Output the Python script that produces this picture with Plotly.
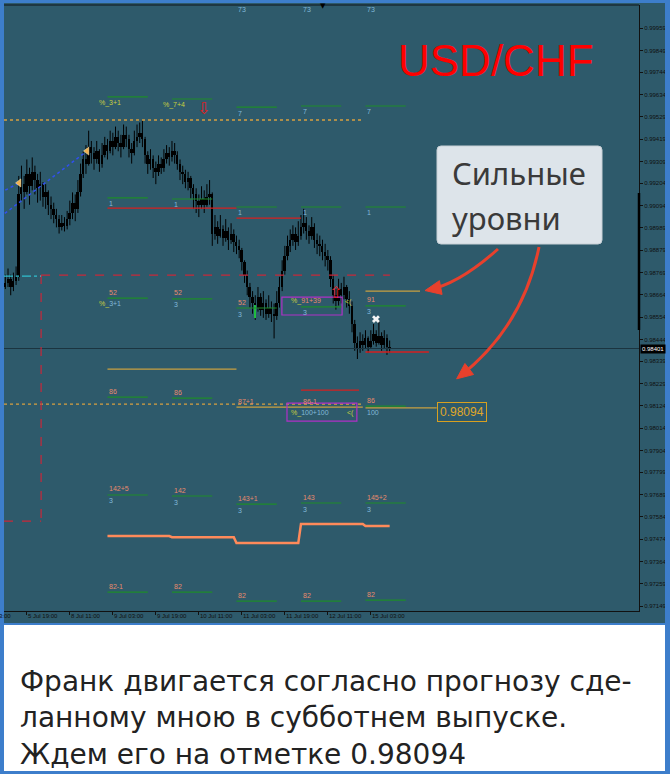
import plotly.graph_objects as go

W, H = 670, 774

# ---------------- data ----------------
close = [
    0.98720, 0.98740, 0.98700, 0.98730, 0.98750, 0.99150, 0.99200, 0.99160, 0.99250, 0.99190,
    0.99260, 0.99220, 0.99180, 0.99200, 0.99140, 0.99160, 0.99100, 0.99080, 0.99050, 0.99030,
    0.98990, 0.99010, 0.98995, 0.99030, 0.99060, 0.99110, 0.99080, 0.99160, 0.99250, 0.99320,
    0.99300, 0.99380, 0.99350, 0.99320, 0.99360, 0.99300, 0.99340, 0.99390, 0.99360, 0.99410,
    0.99380, 0.99430, 0.99400, 0.99380, 0.99440, 0.99420, 0.99370, 0.99350, 0.99410, 0.99430,
    0.99450, 0.99420, 0.99340, 0.99300, 0.99320, 0.99280, 0.99260, 0.99300, 0.99280, 0.99320,
    0.99350, 0.99330, 0.99360, 0.99340, 0.99300, 0.99260, 0.99250, 0.99210, 0.99230, 0.99180,
    0.99150, 0.99120, 0.99100, 0.99130, 0.99100, 0.99140, 0.99150, 0.98960, 0.98990, 0.98950,
    0.98980, 0.98940, 0.98970, 0.98930, 0.98960, 0.98920, 0.98900, 0.98880, 0.98820, 0.98760,
    0.98700, 0.98650, 0.98620, 0.98600, 0.98650, 0.98590, 0.98620, 0.98570, 0.98600, 0.98570,
    0.98560, 0.98620, 0.98700, 0.98780, 0.98850, 0.98900, 0.98930, 0.98960, 0.98920, 0.98950,
    0.98990, 0.99010, 0.98970, 0.98950, 0.98990, 0.98930, 0.98910, 0.98900, 0.98870, 0.98850,
    0.98830, 0.98740, 0.98660, 0.98630, 0.98690, 0.98660, 0.98700, 0.98640, 0.98610, 0.98520,
    0.98430, 0.98400, 0.98440, 0.98420, 0.98450, 0.98410, 0.98440, 0.98470, 0.98430, 0.98460,
    0.98420, 0.98450, 0.98410, 0.98401]
high = [
    0.98760, 0.98790, 0.98760, 0.98770, 0.98800, 0.99240, 0.99290, 0.99240, 0.99320, 0.99280,
    0.99330, 0.99290, 0.99250, 0.99260, 0.99210, 0.99200, 0.99170, 0.99140, 0.99110, 0.99080,
    0.99050, 0.99050, 0.99040, 0.99070, 0.99120, 0.99160, 0.99150, 0.99220, 0.99300, 0.99360,
    0.99390, 0.99460, 0.99410, 0.99380, 0.99410, 0.99370, 0.99400, 0.99430, 0.99420, 0.99460,
    0.99450, 0.99480, 0.99460, 0.99440, 0.99490, 0.99480, 0.99440, 0.99400, 0.99460, 0.99490,
    0.99500, 0.99510, 0.99430, 0.99360, 0.99370, 0.99340, 0.99310, 0.99340, 0.99330, 0.99370,
    0.99390, 0.99380, 0.99410, 0.99400, 0.99360, 0.99320, 0.99290, 0.99270, 0.99260, 0.99240,
    0.99200, 0.99180, 0.99150, 0.99190, 0.99170, 0.99200, 0.99220, 0.99160, 0.99050, 0.99020,
    0.99050, 0.99000, 0.99030, 0.98990, 0.99010, 0.98980, 0.98950, 0.98930, 0.98890, 0.98830,
    0.98780, 0.98720, 0.98680, 0.98660, 0.98700, 0.98670, 0.98680, 0.98640, 0.98660, 0.98630,
    0.98620, 0.98680, 0.98750, 0.98830, 0.98900, 0.98950, 0.98980, 0.99000, 0.98990, 0.99020,
    0.99050, 0.99080, 0.99040, 0.99000, 0.99040, 0.99010, 0.98960, 0.98950, 0.98930, 0.98910,
    0.98880, 0.98850, 0.98760, 0.98690, 0.98740, 0.98720, 0.98750, 0.98710, 0.98680, 0.98630,
    0.98540, 0.98460, 0.98480, 0.98470, 0.98490, 0.98460, 0.98490, 0.98520, 0.98490, 0.98540,
    0.98480, 0.98490, 0.98470, 0.98440]
low = [
    0.98690, 0.98700, 0.98660, 0.98680, 0.98710, 0.98730, 0.99120, 0.99080, 0.99150, 0.99100,
    0.99170, 0.99150, 0.99110, 0.99120, 0.99090, 0.99080, 0.99050, 0.99030, 0.99010, 0.98990,
    0.98960, 0.98975, 0.98970, 0.98980, 0.99000, 0.99030, 0.99020, 0.99060, 0.99140, 0.99230,
    0.99250, 0.99290, 0.99300, 0.99270, 0.99300, 0.99260, 0.99280, 0.99330, 0.99320, 0.99350,
    0.99340, 0.99370, 0.99360, 0.99330, 0.99370, 0.99380, 0.99330, 0.99300, 0.99340, 0.99380,
    0.99400, 0.99380, 0.99300, 0.99250, 0.99270, 0.99230, 0.99200, 0.99240, 0.99250, 0.99260,
    0.99300, 0.99290, 0.99310, 0.99300, 0.99270, 0.99220, 0.99200, 0.99180, 0.99170, 0.99130,
    0.99080, 0.99060, 0.99040, 0.99080, 0.99060, 0.99090, 0.99100, 0.98900, 0.98930, 0.98910,
    0.98940, 0.98900, 0.98920, 0.98880, 0.98910, 0.98870, 0.98860, 0.98840, 0.98780, 0.98720,
    0.98660, 0.98600, 0.98570, 0.98540, 0.98580, 0.98560, 0.98550, 0.98540, 0.98550, 0.98530,
    0.98450, 0.98540, 0.98600, 0.98680, 0.98760, 0.98830, 0.98870, 0.98900, 0.98880, 0.98900,
    0.98930, 0.98960, 0.98930, 0.98910, 0.98930, 0.98890, 0.98860, 0.98850, 0.98830, 0.98800,
    0.98780, 0.98700, 0.98620, 0.98590, 0.98610, 0.98620, 0.98640, 0.98600, 0.98570, 0.98480,
    0.98390, 0.98350, 0.98380, 0.98390, 0.98400, 0.98380, 0.98400, 0.98420, 0.98410, 0.98420,
    0.98390, 0.98400, 0.98370, 0.98380]
first_open = 0.98700

tick_bars = [8, 24, 40, 56, 72, 88, 104, 120, 136]
tick_labels = ["5 Jul 19:00", "8 Jul 11:00", "9 Jul 03:00", "9 Jul 19:00", "10 Jul 11:00",
               "11 Jul 03:00", "11 Jul 19:00", "12 Jul 11:00", "15 Jul 03:00"]
price_ticks = [0.99959, 0.99849, 0.99744, 0.99634, 0.99529, 0.99419, 0.99309, 0.99204, 0.99094,
               0.98989, 0.98879, 0.98769, 0.98664, 0.98554, 0.98444, 0.98339, 0.98229, 0.98124,
               0.98014, 0.97904, 0.97799, 0.97689, 0.97584, 0.97474, 0.97364, 0.97259, 0.97149]

current_price = 0.98401
target_price = 0.98094

# level-indicator columns (bar index where each daily block starts)
col_start = [38, 62, 86, 110, 134]
col_len = 15
lvl7 = [0.99624, 0.99614, 0.99575, 0.99580, 0.99580]
lvl1 = [0.99133, 0.99128, 0.99089, 0.99089, 0.99089]
lvl52 = [0.98646, 0.98642, 0.98598, 0.98603, 0.98608]
lvl86 = [0.98165, 0.98160, None, None, 0.98121]
lvl142 = [0.97689, 0.97684, 0.97645, 0.97650, 0.97650]
lvl82 = [0.97217, 0.97217, 0.97173, 0.97173, 0.97178]
step_vals = [0.97489, 0.97484, 0.97455, 0.97548, 0.97538]
gold86 = 0.98116

txt52_above = ["52", "52", "52", None, "91"]
txt86_above = ["86", "86", "87+1", "86-1", "86"]
txt142_above = ["142+5", "142", "143+1", "143", "145+2"]
txt82_above = ["82-1", "82", "82", "82", "82"]

# other indicator marks: (start bar, end bar, price)
red_segs = [(38, 86, 0.99084), (86, 110, 0.99035), (110, 131.6, 0.98199), (134, 157.6, 0.98384)]
gold_segs = [(38, 86, 0.98301), (86, 133, gold86), (134, 160.5, 0.98112), (134, 154.3, 0.98680)]
dotted_orange = [0.99512, 0.98131]
dotted_end = 132.7
box_top = 0.98758
box_bottom = 0.97562
box_left = 13.3
box_right = 143.1
cyan_level = 0.98753
magenta_boxes = [(102.9, 125.3, 0.98651, 0.98564), (104.8, 130.8, 0.98136, 0.98048)]
fractal_x = [5.1, 30.4]
fractal_y = [0.99206, 0.99361]
trend1_x = [-2.0, 30.4]
trend1_y = [0.99040, 0.99361]
trend2_x = [-2.0, 5.1]
trend2_y = [0.99157, 0.99206]

# ---------------- helpers ----------------
def PX(x):
    return x / W


def PY(y):
    return 1 - y / H


TEAL = "#2e5a6b"
BLUE = "#3d7ecb"
SAL = "#e88a6c"
LBL = "#82b9d9"
YEL = "#c8d040"
GRN = "#1e8c2a"
RED = "#d42020"
GOLD = "#c9a040"
LF = "Liberation Sans, Arial"

opens = [first_open] + close[:-1]
n = len(close)
idx = list(range(n))

fig = go.Figure()
# candles: wicks + bodies
wx, wy = [], []
for i in idx:
    wx += [i, i, None]
    wy += [low[i], high[i], None]
fig.add_trace(go.Scatter(x=wx, y=wy, mode="lines", line=dict(color="#000000", width=1),
                         showlegend=False, hoverinfo="skip"))
body_base = [min(o, c) for o, c in zip(opens, close)]
body_h = [max(abs(c - o), 0.00002) for o, c in zip(opens, close)]
fig.add_trace(go.Bar(x=idx, y=body_h, base=body_base, width=0.72,
                     marker=dict(color="#000000", line=dict(width=0)),
                     showlegend=False, hoverinfo="skip"))

# trend dotted lines & fractal markers
fig.add_trace(go.Scatter(x=trend1_x, y=trend1_y, mode="lines",
                         line=dict(color="#3050f0", width=1.5, dash="dot"), showlegend=False, hoverinfo="skip"))
fig.add_trace(go.Scatter(x=trend2_x, y=trend2_y, mode="lines",
                         line=dict(color="#3050f0", width=1.5, dash="dot"), showlegend=False, hoverinfo="skip"))
fig.add_trace(go.Scatter(x=fractal_x, y=fractal_y, mode="markers",
                         marker=dict(symbol="triangle-left", size=7, color="#f0b050",
                                     line=dict(color="#fff0c0", width=0.5)),
                         showlegend=False, hoverinfo="skip"))

# step orange line
sx, sy = [], []
for i, v in enumerate(step_vals):
    s = col_start[i]
    e = col_start[i + 1] - 1 if i + 1 < len(col_start) else 143
    sx += [s, e]
    sy += [v, v]
fig.add_trace(go.Scatter(x=sx, y=sy, mode="lines", line=dict(color="#ff8a5a", width=2.5),
                         showlegend=False, hoverinfo="skip"))

# white X marker
fig.add_trace(go.Scatter(x=[137.9], y=[0.98544], mode="markers",
                         marker=dict(symbol="x", size=7, color="#f4f4f4"),
                         showlegend=False, hoverinfo="skip"))
# green vertical marker
fig.add_trace(go.Scatter(x=[92.9, 92.9], y=[0.98612, 0.98549], mode="lines",
                         line=dict(color="#20c040", width=2), showlegend=False, hoverinfo="skip"))

shapes = []
annos = []

# backgrounds / frame
shapes.append(dict(type="rect", xref="paper", yref="paper", x0=0, x1=1, y0=PY(624), y1=1,
                   fillcolor=TEAL, line=dict(width=0), layer="below"))
shapes.append(dict(type="rect", xref="paper", yref="paper", x0=0, x1=1, y0=0, y1=PY(624),
                   fillcolor="white", line=dict(width=0), layer="below"))


def hline(x0, x1, y, color, width=1, dash="solid", xref="x", yref="y"):
    shapes.append(dict(type="line", xref=xref, yref=yref, x0=x0, x1=x1, y0=y, y1=y,
                       line=dict(color=color, width=width, dash=dash)))


def label(x, y, text, color, shift, size=7):
    annos.append(dict(x=x, y=y, xref="x", yref="y", text=text, showarrow=False,
                      xanchor="left", yanchor="middle", yshift=shift,
                      font=dict(family=LF, size=size, color=color)))


# bid line
hline(-0.5, 235.78, current_price, "#1b3440", 1.2)

# dotted orange lines
for lv in dotted_orange:
    hline(-0.5, dotted_end, lv, "#d8a040", 1.3, "dot")

# dashed red box edges
hline(box_left, box_right, box_top, "#c8283a", 1.2, "dash")
hline(-0.5, box_left, box_bottom, "#c8283a", 1.2, "dash")
shapes.append(dict(type="line", xref="x", yref="y", x0=box_left, x1=box_left, y0=box_top, y1=box_bottom,
                   line=dict(color="#c8283a", width=1.2, dash="dash")))
hline(-0.5, box_left, cyan_level, "#30c0d0", 1.2, "dashdot")

for s, e, v in red_segs:
    hline(s, e, v, RED, 1.3)
for s, e, v in gold_segs:
    hline(s, e, v, GOLD, 1.3)

for x0, x1, y0, y1 in magenta_boxes:
    shapes.append(dict(type="rect", xref="x", yref="y", x0=x0, x1=x1, y0=y0, y1=y1,
                       line=dict(color="#b030c8", width=1.2), fillcolor="rgba(0,0,0,0)"))

# green level lines
for row in [lvl7, lvl1, lvl52, lvl86, lvl142, lvl82]:
    for i, v in enumerate(row):
        if v is not None:
            hline(col_start[i], col_start[i] + col_len, v, GRN, 1.2)

# labels
for i, v in enumerate(lvl7):
    if i == 0:
        label(col_start[i] - 4, v, "%_3+1", YEL, -6)
    elif i == 1:
        label(col_start[i] - 4, v, "%_7+4", YEL, -6)
    else:
        label(col_start[i], v, "7", LBL, -6)
for i, v in enumerate(lvl1):
    label(col_start[i], v, "1", LBL, -6)
for i, v in enumerate(lvl52):
    if txt52_above[i]:
        label(col_start[i], v, txt52_above[i], SAL, 6)
    if i == 0:
        label(col_start[i] - 4, v, f"<span style='color:{YEL}'>%_</span>3+1", LBL, -6)
    else:
        label(col_start[i], v, "3", LBL, -6)
label(magenta_boxes[0][0] + 2.5, lvl52[3], f"<span style='color:{YEL}'>%_</span>91+39", SAL, 6)
label(125.7, lvl52[3], "<(", YEL, 5)

for i, t in enumerate(txt86_above):
    v = lvl86[i] if lvl86[i] is not None else gold86
    label(col_start[i], v, t, SAL, 6)
label(magenta_boxes[1][0] + 0.6, gold86, f"<span style='color:{YEL}'>%_</span>100+100", LBL, -6)
label(126.4, gold86, "<(", YEL, -6)
label(col_start[4], lvl86[4], "100", LBL, -6)

for i, v in enumerate(lvl142):
    label(col_start[i], v, txt142_above[i], SAL, 6)
    label(col_start[i], v, "3", LBL, -6)
for i, v in enumerate(lvl82):
    label(col_start[i], v, txt82_above[i], SAL, 6)

# 73 labels at the top edge
for i in [2, 3, 4]:
    annos.append(dict(x=col_start[i], y=PY(9), xref="x", yref="paper", text="73", showarrow=False,
                      xanchor="left", yanchor="middle", font=dict(family=LF, size=7, color=LBL)))
annos.append(dict(x=118.2, y=PY(6), xref="x", yref="paper", text="▼", showarrow=False,
                  xanchor="center", yanchor="middle", font=dict(family="DejaVu Sans", size=7, color="#000")))

# arrows (fractal signals)
annos.append(dict(x=73.9, y=0.99570, xref="x", yref="y", text="⇩", showarrow=False,
                  font=dict(family="DejaVu Sans", size=16, color="#e02020")))
annos.append(dict(x=123.0, y=0.98671, xref="x", yref="y", text="⇧", showarrow=False,
                  font=dict(family="DejaVu Sans", size=16, color="#e02020")))

# target label box
annos.append(dict(x=160.6, y=target_price, xref="x", yref="y", text=f"{target_price:.5f}", showarrow=False,
                  xanchor="left", yanchor="middle", bordercolor="#d8a020", borderwidth=1, borderpad=2,
                  font=dict(family=LF, size=12, color="#e0a828")))

# current price tag on the axis
annos.append(dict(x=PX(640), y=current_price, xref="paper", yref="y", text=f"{current_price:.5f}",
                  showarrow=False, xanchor="left", yanchor="middle", bgcolor="#000", borderpad=1,
                  font=dict(family=LF, size=6, color="#ffffff")))

# x axis labels, left-aligned like MetaTrader
for b, t in zip(tick_bars, tick_labels):
    annos.append(dict(x=b, y=PY(611), xref="x", yref="paper", text=t, showarrow=False,
                      xanchor="left", yanchor="top", xshift=-1,
                      font=dict(family=LF, size=6, color="#101010")))
annos.append(dict(x=PX(13), y=PY(611), xref="paper", yref="paper", text="3:00", showarrow=False,
                  xanchor="right", yanchor="top", font=dict(family=LF, size=6, color="#101010")))

# USD/CHF title
annos.append(dict(x=PX(396), y=PY(61), xref="paper", yref="paper", text="USD/CHF", showarrow=False,
                  xanchor="left", yanchor="middle", font=dict(family=LF, size=44, color="#ff0000")))

# frame lines
shapes.append(dict(type="line", xref="paper", yref="paper", x0=PX(4), x1=PX(639), y0=PY(5), y1=PY(5),
                   line=dict(color="#1a2c34", width=1.5)))
shapes.append(dict(type="line", xref="paper", yref="y", x0=PX(639), x1=PX(639), y0=0.99157, y1=0.98491,
                   line=dict(color="#000", width=2.5)))

# callout box
bx0, by0, bx1, by1, r = 437, 146, 602, 244, 4
p = (f"M {PX(bx0 + r)},{PY(by0)} L {PX(bx1 - r)},{PY(by0)} Q {PX(bx1)},{PY(by0)} {PX(bx1)},{PY(by0 + r)} "
     f"L {PX(bx1)},{PY(by1 - r)} Q {PX(bx1)},{PY(by1)} {PX(bx1 - r)},{PY(by1)} "
     f"L {PX(bx0 + r)},{PY(by1)} Q {PX(bx0)},{PY(by1)} {PX(bx0)},{PY(by1 - r)} "
     f"L {PX(bx0)},{PY(by0 + r)} Q {PX(bx0)},{PY(by0)} {PX(bx0 + r)},{PY(by0)} Z")
shapes.append(dict(type="path", xref="paper", yref="paper", path=p, fillcolor="#dde4ea",
                   line=dict(color="#c8d0d6", width=1)))
annos.append(dict(x=PX(450), y=PY(173), xref="paper", yref="paper", text="Сильные", showarrow=False,
                  xanchor="left", yanchor="middle", font=dict(family="Noto Sans", size=31, color="#3a3a3a")))
annos.append(dict(x=PX(450), y=PY(218), xref="paper", yref="paper", text="уровни", showarrow=False,
                  xanchor="left", yanchor="middle", font=dict(family="Noto Sans", size=31, color="#3a3a3a")))


def curved_arrow(p0, c, p2, color="#e8402c", width=3, L=16, hw=7):
    shapes.append(dict(type="path", xref="paper", yref="paper",
                       path=f"M {PX(p0[0])},{PY(p0[1])} Q {PX(c[0])},{PY(c[1])} {PX(p2[0])},{PY(p2[1])}",
                       line=dict(color=color, width=width)))
    dx, dy = p2[0] - c[0], p2[1] - c[1]
    d = (dx * dx + dy * dy) ** 0.5
    ux, uy = dx / d, dy / d
    tip = (p2[0] + ux * 3, p2[1] + uy * 3)
    bcx, bcy = tip[0] - ux * L, tip[1] - uy * L
    nx, ny = -uy, ux
    b1 = (bcx + nx * hw, bcy + ny * hw)
    b2 = (bcx - nx * hw, bcy - ny * hw)
    shapes.append(dict(type="path", xref="paper", yref="paper",
                       path=f"M {PX(tip[0])},{PY(tip[1])} L {PX(b1[0])},{PY(b1[1])} L {PX(b2[0])},{PY(b2[1])} Z",
                       fillcolor=color, line=dict(color=color, width=1)))


curved_arrow((498, 249), (459, 284), (428, 290))
curved_arrow((539, 247), (523, 327), (459, 377))

# outer blue frame and bottom panel
for (x0, y0, x1, y1) in [(0, 0, 4, 774), (0, 0, 670, 3), (665, 0, 670, 774), (0, 771, 670, 774), (0, 623, 670, 625)]:
    shapes.append(dict(type="rect", xref="paper", yref="paper", x0=PX(x0), x1=PX(x1), y0=PY(y1), y1=PY(y0),
                       fillcolor=BLUE, line=dict(width=0)))

bottom_lines = ["Франк двигается согласно прогнозу сде-",
                "ланному мною в субботнем выпуске.",
                "Ждем его на отметке 0.98094"]
annos.append(dict(x=PX(18), y=PY(718), xref="paper", yref="paper", text="<br>".join(bottom_lines),
                  showarrow=False, xanchor="left", yanchor="middle", align="left",
                  font=dict(family="DejaVu Sans", size=28, color="#222222")))

fig.update_layout(
    width=W, height=H, margin=dict(l=0, r=0, t=0, b=0),
    paper_bgcolor="white", plot_bgcolor="rgba(0,0,0,0)",
    shapes=shapes, annotations=annos, showlegend=False, bargap=0,
    xaxis=dict(domain=[PX(4), PX(639)], range=[-0.5, 235.78], showgrid=False, zeroline=False,
               showline=True, linecolor="#111", linewidth=1, ticks="outside", ticklen=3, tickcolor="#111",
               tickvals=tick_bars, showticklabels=False, fixedrange=True),
    yaxis=dict(domain=[PY(611), PY(5)], range=[0.97125, 1.00071], side="right", showgrid=False,
               zeroline=False, showline=True, linecolor="#111", linewidth=1, ticks="outside", ticklen=3,
               tickcolor="#111", tickvals=price_ticks, ticktext=[f"{v:.5f}" for v in price_ticks],
               tickfont=dict(family=LF, size=6, color="#101010"), automargin=False, fixedrange=True),
)

fig.write_html("out.html", config={"displayModeBar": False},
               post_script="document.body.style.margin='0px';document.body.style.overflow='hidden';")
